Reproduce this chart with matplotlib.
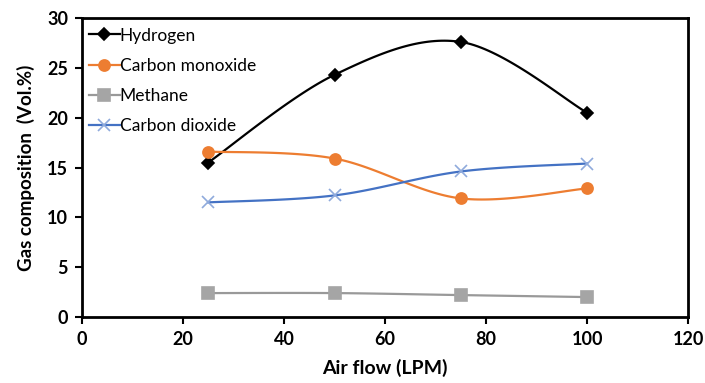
import numpy as np
import matplotlib
matplotlib.use('Agg')
import matplotlib.pyplot as plt
from matplotlib.lines import Line2D

plt.rcParams['font.family'] = ['Lato', 'DejaVu Sans']

air_flow = [25, 50, 75, 100]
hydrogen = [15.5, 24.3, 27.6, 20.5]
carbon_monoxide = [16.6, 15.9, 11.9, 12.9]
methane = [2.4, 2.4, 2.2, 2.0]
carbon_dioxide = [11.5, 12.2, 14.6, 15.4]

x_ticks = [0, 20, 40, 60, 80, 100, 120]
y_ticks = [0, 5, 10, 15, 20, 25, 30]


def smooth(xs, ys, n=40):
    # Excel-style smoothed line: Catmull-Rom segments as cubic Bezier curves
    p = np.column_stack([xs, ys]).astype(float)
    pts = np.vstack([p[0], p, p[-1]])
    out = []
    t = np.linspace(0, 1, n)[:, None]
    for i in range(1, len(pts) - 2):
        p0, p1, p2, p3 = pts[i - 1], pts[i], pts[i + 1], pts[i + 2]
        c1 = p1 + (p2 - p0) / 6
        c2 = p2 - (p3 - p1) / 6
        seg = ((1 - t) ** 3) * p1 + 3 * ((1 - t) ** 2) * t * c1 + 3 * (1 - t) * t ** 2 * c2 + t ** 3 * p2
        out.append(seg if i == 1 else seg[1:])
    out = np.vstack(out)
    return out[:, 0], out[:, 1]


series = [
    ('Hydrogen', hydrogen, 'black', 'D', 'black', 6),
    ('Carbon monoxide', carbon_monoxide, '#ED7D31', 'o', '#ED7D31', 8),
    ('Methane', methane, '#999999', 's', '#A5A5A5', 8),
    ('Carbon dioxide', carbon_dioxide, '#4472C4', 'x', '#8FAADC', 9),
]

fig = plt.figure(figsize=(7.05, 3.83), dpi=100)
ax = fig.add_axes([0.1163, 0.1723, 0.8597, 0.7807])

handles = []
for name, vals, col, mk, mcol, ms in series:
    sx, sy = smooth(air_flow, vals)
    ax.plot(sx, sy, color=col, lw=1.6, zorder=2)
    ax.plot(air_flow, vals, ls='none', marker=mk, color=mcol, ms=ms,
            mew=1.2, zorder=3)
    handles.append(Line2D([], [], color=col, lw=1.6, marker=mk, ms=ms,
                          markerfacecolor=mcol, markeredgecolor=mcol,
                          mew=1.2, label=name))

ax.set_xlim(0, 120)
ax.set_ylim(0, 30)
ax.set_xticks(x_ticks)
ax.set_yticks(y_ticks)
for s in ax.spines.values():
    s.set_linewidth(2)
    s.set_color('black')
ax.tick_params(axis='both', direction='out', length=5, width=1.5,
               labelsize=13, pad=5)
for lab in ax.get_xticklabels() + ax.get_yticklabels():
    lab.set_fontweight('bold')

ax.set_xlabel('Air flow (LPM)', fontsize=14, fontweight='bold', labelpad=8)
ax.set_ylabel('Gas composition  (Vol.%)', fontsize=13.5, fontweight='bold', labelpad=9)

leg = ax.legend(handles=handles, loc='upper left', bbox_to_anchor=(-0.005, 1.0),
                frameon=False, fontsize=12.5, handlelength=1.8,
                handletextpad=0.0, labelspacing=0.82, borderaxespad=0.15)

fig.savefig('out.png', dpi=100)
